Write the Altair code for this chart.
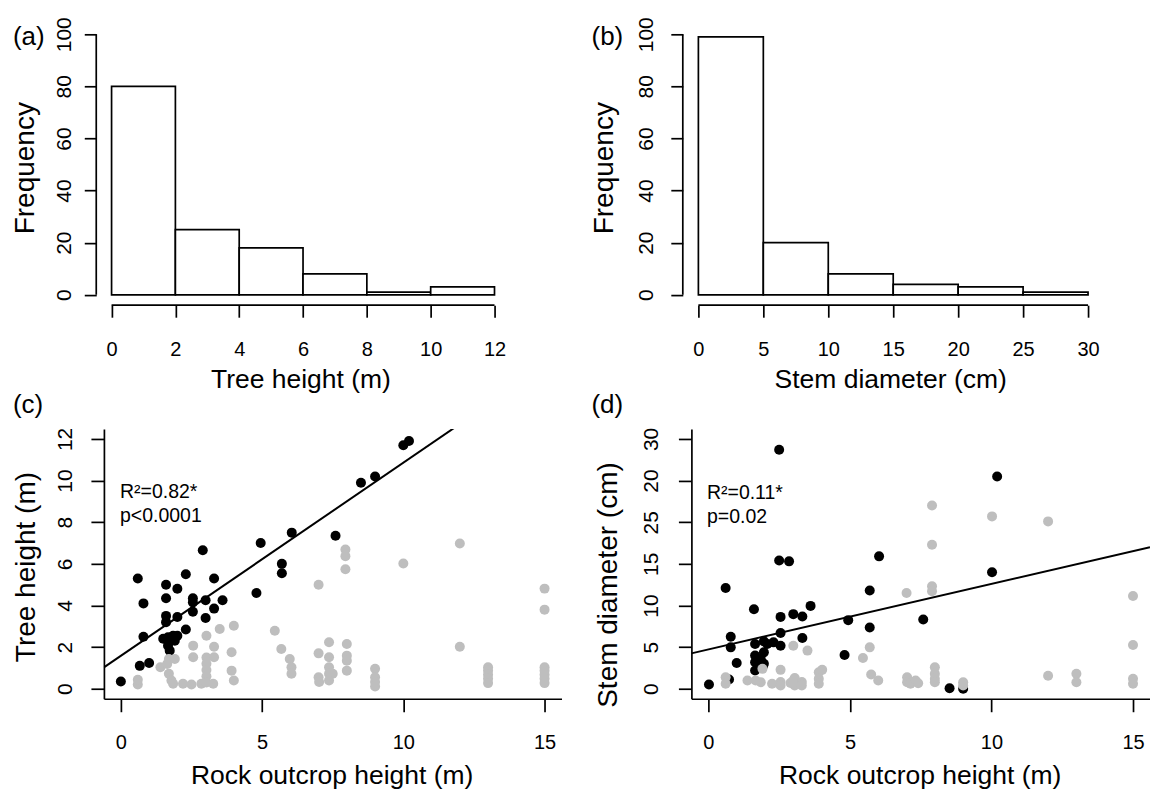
import altair as alt
import pandas as pd

FONT = "Liberation Sans"

# ---------------- data ----------------
# (a) histogram of tree height
a_edges = [0, 2, 4, 6, 8, 10, 12]
a_counts = [80, 25, 18, 8, 1, 3]
# (b) histogram of stem diameter
b_edges = [0, 5, 10, 15, 20, 25, 30]
b_counts = [99, 20, 8, 4, 3, 1]

freq_ticks = [0, 20, 40, 60, 80, 100]
a_xticks = [0, 2, 4, 6, 8, 10, 12]
b_xticks = [0, 5, 10, 15, 20, 25, 30]
rock_ticks = [0, 5, 10, 15]
c_yticks = [0, 2, 4, 6, 8, 10, 12]
d_yticks = [0, 5, 10, 15, 20, 25, 30]
d_ytick_labels = ["0", "5", "10", "15", "25", "20", "30"]

# (c) rock outcrop height vs tree height
c_black_x = [0.0, 0.6, 0.8, 0.8, 0.67, 1.0, 1.6, 2.0, 2.3, 2.9, 1.6, 2.55, 2.55, 3.0, 3.3, 3.6,
             2.55, 3.3, 1.6, 2.0, 1.6, 3.0, 2.3, 1.5, 1.67, 1.85, 2.0, 1.67, 1.73, 1.91,
             4.8, 4.95, 5.7, 5.7, 6.05, 7.6, 8.5, 9.0, 10.0, 10.2]
c_black_y = [0.35, 5.3, 4.1, 2.5, 1.1, 1.24, 5.0, 4.8, 5.5, 6.65, 4.35, 4.35, 4.15, 4.25, 5.3, 4.25,
             3.7, 3.85, 3.5, 3.45, 3.2, 3.4, 2.85, 2.4, 2.47, 2.55, 2.55, 2.07, 1.83, 2.31,
             4.6, 7.0, 6.0, 5.55, 7.5, 7.35, 9.9, 10.2, 11.7, 11.9]
c_gray_x = [0.6, 0.6, 1.4, 1.64, 1.7, 1.91, 1.7, 1.79, 1.85, 2.2, 2.5, 2.56, 2.56,
            2.85, 3.03, 3.03, 3.03, 3.03, 3.03, 3.03, 3.27, 3.3, 3.3,
            3.5, 3.92, 3.92, 4.0, 4.0, 5.45, 5.68, 5.98, 6.04, 6.04,
            7.0, 7.0, 7.0, 7.02, 7.37, 7.37, 7.37, 7.37, 7.5, 7.37,
            7.95, 7.95, 7.95, 8.0, 8.0, 8.0, 8.0, 9.0, 9.0, 9.0, 9.0,
            10.0, 12.0, 12.0, 13.0, 13.0, 13.0, 13.0, 13.0,
            15.0, 15.0, 15.0, 15.0, 15.0, 15.0, 15.0]
c_gray_y = [0.2, 0.43, 1.03, 1.19, 1.43, 1.43, 0.72, 0.4, 0.24, 0.24, 0.2, 2.07, 1.51,
            0.24, 2.55, 1.5, 1.2, 0.9, 0.6, 0.3, 0.24, 2.02, 1.51,
            2.87, 1.75, 0.87, 3.03, 0.4, 2.79, 1.91, 1.43, 1.03, 0.72,
            5.0, 1.7, 0.55, 0.32, 2.23, 1.51, 1.03, 0.72, 0.72, 0.4,
            6.69, 6.37, 5.74, 2.15, 1.59, 1.35, 0.87, 0.96, 0.55, 0.32, 0.11,
            6.02, 6.98, 2.02, 1.03, 0.87, 0.67, 0.48, 0.27,
            4.81, 3.8, 1.03, 0.87, 0.67, 0.48, 0.27]

# (d) rock outcrop height vs stem diameter
d_black_x = [0.02, 0.61, 0.79, 0.79, 1.0, 0.73, 1.61, 2.5, 2.5, 2.85, 2.55, 3.0, 3.32, 3.61,
             2.55, 3.32, 1.65, 1.96, 2.08, 2.3, 2.55, 1.65, 1.96, 1.65, 1.85, 1.96, 1.65, 1.91,
             4.81, 4.94, 5.7, 5.7, 6.03, 7.59, 8.52, 9.0, 10.02, 10.2]
d_black_y = [0.51, 12.1, 6.25, 4.97, 3.1, 1.1, 9.55, 28.7, 15.4, 15.3, 8.63, 8.96, 8.67, 9.95,
             6.69, 6.09, 5.38, 5.69, 5.38, 5.57, 5.17, 3.98, 4.37, 3.18, 3.58, 2.99, 2.19, 2.58,
             4.06, 8.24, 7.36, 11.8, 15.9, 8.32, 0.07, 0.0, 14.0, 25.5]
d_gray_x = [0.61, 0.61, 1.38, 1.67, 1.85, 1.91, 2.25, 2.55, 2.55, 2.9, 3.0, 3.05, 3.3, 3.05, 3.3,
            2.55, 3.0, 3.5, 3.9, 3.9, 3.9, 4.02, 5.46, 5.7, 5.75, 6.0,
            7.0, 7.02, 7.02, 7.14, 7.32, 7.41, 7.9, 7.9, 7.9, 7.9, 8.0, 8.0, 8.0, 8.0,
            9.0, 9.0, 10.02, 12.0, 12.0, 13.0, 13.0, 15.0, 15.0, 15.0, 15.0]
d_gray_y = [1.39, 0.6, 1.0, 1.0, 0.79, 2.39, 0.6, 0.8, 0.4, 0.7, 1.0, 1.3, 0.8, 0.4, 0.4,
            2.27, 5.17, 4.58, 1.98, 1.19, 0.6, 2.27, 3.7, 4.97, 1.71, 0.99,
            11.5, 1.39, 0.79, 0.6, 1.0, 0.67, 22.0, 17.3, 12.3, 11.7, 2.58, 1.79, 1.19, 0.79,
            0.79, 0.4, 20.7, 20.1, 1.55, 1.79, 0.79, 11.15, 5.26, 1.19, 0.6]

# fitted lines (intercept, slope) and annotations
c_fit = (1.58, 0.928)
d_fit = (4.72, 0.787)
c_note = "R²=0.82*\np<0.0001"
d_note = "R²=0.11*\np=0.02"
panel_labels = ["(a)", "(b)", "(c)", "(d)"]

GRAY = "#BEBEBE"
LW = 1.7
PT = 100


def ax(values, title, tick_size, pad, title_x, title_y, rotate=False, offset=0,
       domain=False, label_expr=None):
    kw = dict(values=values, title=title, grid=False, domain=domain, domainColor="black",
              domainWidth=LW, ticks=True, tickSize=tick_size, tickColor="black", tickWidth=LW,
              labelFont=FONT, labelColor="black", labelPadding=pad,
              labelFlush=False, labelOverlap=False, labelBound=False,
              titleFont=FONT, titleFontWeight="normal", titleColor="black",
              titleX=title_x, titleY=title_y, titleAlign="center", titleBaseline="alphabetic",
              offset=offset)
    if rotate:
        kw.update(labelAngle=270, labelAlign="center", labelBaseline="bottom", titleAngle=270,
                  labelFontSize=21, titleFontSize=28)
    else:
        kw.update(labelAngle=0, labelAlign="center", labelBaseline="top", titleAngle=0,
                  labelFontSize=20, titleFontSize=26.5)
    if label_expr:
        kw["labelExpr"] = label_expr
    return alt.Axis(**kw)


def label_mark(txt, pos):
    return alt.Chart(pd.DataFrame({"t": [txt]})).mark_text(
        align="left", baseline="alphabetic", font=FONT, fontSize=26, color="black",
        clip=False).encode(x=alt.XDatum(pos[0]), y=alt.YDatum(pos[1]), text="t:N")


def histogram(edges, counts, xticks, xdom, ydom, w, xtitle, xtitle_x, ypad, yoffset, ytitle_x,
              label, lpos):
    df = pd.DataFrame({"start": edges[:-1], "end": edges[1:], "count": counts})
    xs = alt.Scale(domain=xdom, nice=False, zero=False)
    ys = alt.Scale(domain=ydom, nice=False, zero=False)
    lo, hi = edges[0], edges[-1]
    x_ext = lo - 0.04 * (hi - lo)
    y_ext = freq_ticks[0] - 0.04 * (freq_ticks[-1] - freq_ticks[0])
    x_off = (y_ext - ydom[0]) * (270 / (ydom[1] - ydom[0]))
    bars = alt.Chart(df).mark_rect(fill="white", stroke="black", strokeWidth=LW).encode(
        x=alt.X("start:Q", scale=xs,
                axis=ax(xticks, xtitle, 12, 22, xtitle_x, 82, offset=-x_off)),
        x2="end:Q",
        y=alt.Y("count:Q", scale=ys,
                axis=ax(freq_ticks, "Frequency", 12, ypad, ytitle_x, 138.5, rotate=True,
                        offset=yoffset)),
        y2=alt.Y2Datum(0),
    )
    base = alt.Chart(pd.DataFrame({"k": [0]}))
    yline = base.mark_rule(color="black", strokeWidth=LW).encode(
        x=alt.XDatum(x_ext), y=alt.YDatum(freq_ticks[0]), y2=alt.Y2Datum(freq_ticks[-1]))
    xline = base.mark_rule(color="black", strokeWidth=LW).encode(
        x=alt.XDatum(xticks[0]), x2=alt.X2Datum(xticks[-1]), y=alt.YDatum(y_ext))
    return alt.layer(bars, yline, xline, label_mark(label, lpos)).properties(
        width=w, height=270)


def scatter(bx, by, gx, gy, ydom, yticks, w, ytitle, ytitle_x, ytitle_y, ypad, fit, note,
            note_xy, label, lpos, label_expr=None):
    xs = alt.Scale(domain=[-0.6, 15.6], nice=False, zero=False)
    ys = alt.Scale(domain=ydom, nice=False, zero=False)
    xaxis = ax(rock_ticks, "Rock outcrop height (m)", 13, 21, w / 2 - 1, 84.7, domain=True)
    yaxis = ax(yticks, ytitle, 13, ypad, ytitle_x, ytitle_y, rotate=True, domain=True,
               label_expr=label_expr)
    black = alt.Chart(pd.DataFrame({"x": bx, "y": by})).mark_circle(
        size=PT, color="black", opacity=1).encode(
        x=alt.X("x:Q", scale=xs, axis=xaxis), y=alt.Y("y:Q", scale=ys, axis=yaxis))
    gray = alt.Chart(pd.DataFrame({"x": gx, "y": gy})).mark_circle(
        size=PT, color=GRAY, opacity=1).encode(x="x:Q", y="y:Q")
    line = alt.Chart(pd.DataFrame({"x": xs.domain})).transform_calculate(
        y=f"{fit[0]} + {fit[1]} * datum.x").mark_line(
        color="black", strokeWidth=2, clip=True).encode(x="x:Q", y="y:Q")
    txt = alt.Chart(pd.DataFrame({"t": [note]})).mark_text(
        align="left", baseline="alphabetic", font=FONT, fontSize=19.5, lineBreak="\n",
        lineHeight=24, color="black").encode(
        x=alt.XDatum(note_xy[0]), y=alt.YDatum(note_xy[1]), text="t:N")
    return alt.layer(black, gray, line, txt, label_mark(label, lpos)).properties(
        width=w, height=270)


pa = histogram(a_edges, a_counts, a_xticks, [-0.24, 14.10], [-1.65, 101.9], 458,
               "Tree height (m)", 196.7, 9.6, 7.66, -63, panel_labels[0], (-3.09, 95.76))
pb = histogram(b_edges, b_counts, b_xticks, [-0.538, 34.77], [-1.65, 101.9], 459,
               "Stem diameter (cm)", 199, 14.7, 8.6, -70, panel_labels[1], (-8.23, 95.76))

d_expr = " : ".join(
    [f"datum.value == {v} ? '{l}'" for v, l in zip(d_yticks, d_ytick_labels)]) + " : datum.label"

pc = scatter(c_black_x, c_black_y, c_gray_x, c_gray_y, [-0.48, 12.48], c_yticks, 458,
             "Tree height (m)", -69, 137.7, 15.5, c_fit, c_note, (-0.03, 9.14),
             panel_labels[2], (-3.82, 13.24))
pd_ = scatter(d_black_x, d_black_y, d_gray_x, d_gray_y, [-1.2, 31.2], d_yticks, 459,
              "Stem diameter (cm)", -75.3, 155.7, 16.6, d_fit, d_note, (-0.05, 22.84),
              panel_labels[3], (-4.13, 33.1), label_expr=d_expr)

chart = alt.concat(pa, pb, pc, pd_, columns=2, spacing=130, bounds="flush").properties(
    padding={"left": 11, "top": 16, "right": 0, "bottom": 0},
    background="white",
).configure_view(strokeWidth=0)

chart.save("out.html", embed_options={"renderer": "svg", "actions": False})
